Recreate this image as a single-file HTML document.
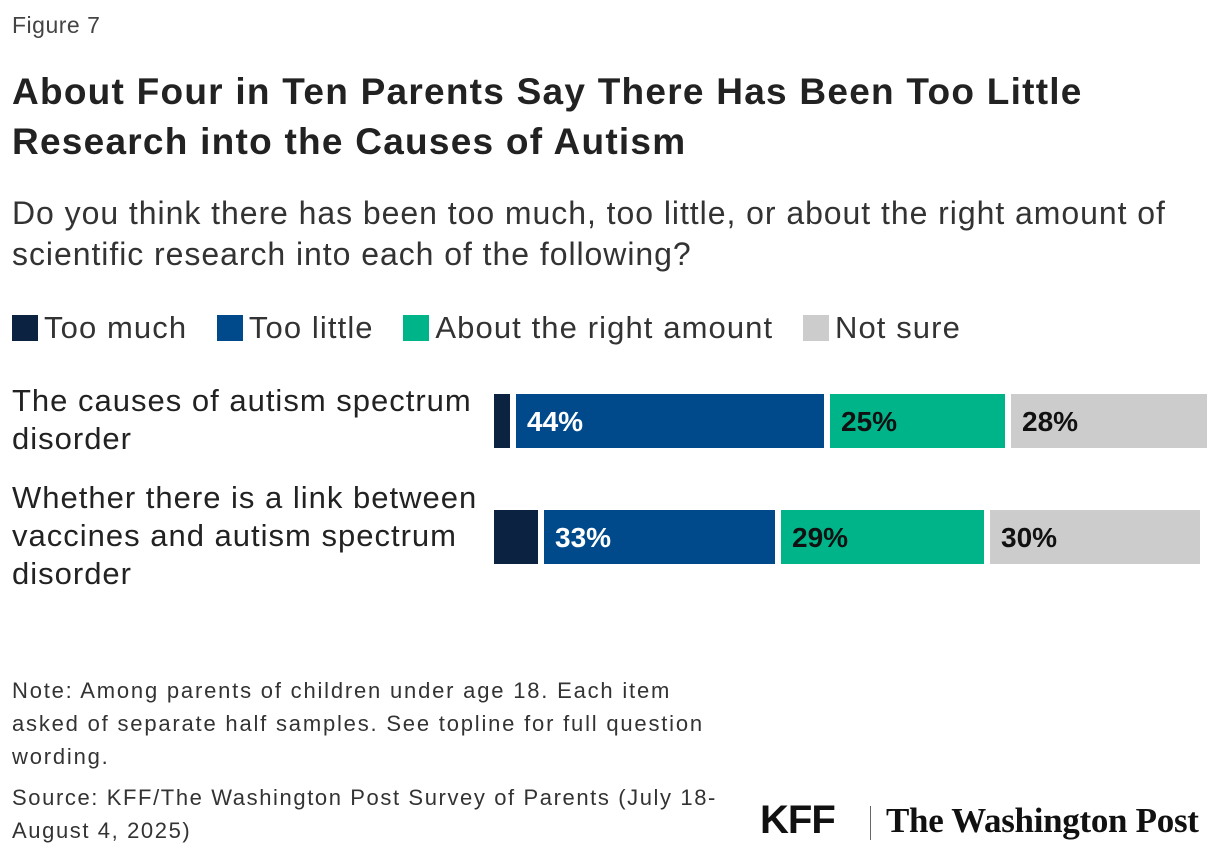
<!DOCTYPE html>
<html><head><meta charset="utf-8"><style>
body{margin:0;width:1220px;height:862px;background:#fff;font-family:"Liberation Sans",sans-serif;color:#222;position:relative;overflow:hidden}
.a{position:absolute;white-space:nowrap}
.lab{font-size:31px;line-height:38px;color:#222;letter-spacing:1px}
</style></head><body>
<div class="a" style="left:12px;top:12px;font-size:23px;color:#444;letter-spacing:0.5px">Figure 7</div>
<div class="a" style="left:12px;top:67px;font-size:37px;font-weight:bold;line-height:50px;letter-spacing:1.25px;color:#222">About Four in Ten Parents Say There Has Been Too Little<br>Research into the Causes of Autism</div>
<div class="a" style="left:12px;top:193px;font-size:32px;line-height:41px;color:#333;letter-spacing:0.95px">Do you think there has been too much, too little, or about the right amount of<br>scientific research into each of the following?</div>
<div class="a" style="left:12px;top:309px;font-size:31px;line-height:38px;color:#333;letter-spacing:1.1px">
<span><span style="display:inline-block;width:26px;height:26px;background:#0b2240;vertical-align:-3px;margin-right:6px"></span>Too much</span>
<span style="margin-left:20px"><span style="display:inline-block;width:26px;height:26px;background:#004a8c;vertical-align:-3px;margin-right:6px"></span>Too little</span>
<span style="margin-left:20px"><span style="display:inline-block;width:26px;height:26px;background:#00b48a;vertical-align:-3px;margin-right:6px"></span>About the right amount</span>
<span style="margin-left:20px"><span style="display:inline-block;width:26px;height:26px;background:#cccccc;vertical-align:-3px;margin-right:6px"></span>Not sure</span>
</div>
<div class="a lab" style="left:12px;top:382px">The causes of autism spectrum<br>disorder</div>
<div class="a lab" style="left:12px;top:479px">Whether there is a link between<br>vaccines and autism spectrum<br>disorder</div>
<svg class="a" style="left:0;top:0" width="1220" height="862" id="chart"></svg>
<div class="a" style="left:12px;top:674px;font-size:22px;line-height:33px;color:#333;letter-spacing:1.8px">Note: Among parents of children under age 18. Each item<br>asked of separate half samples. See topline for full question<br>wording.</div>
<div class="a" style="left:12px;top:781px;font-size:22px;line-height:33px;color:#333;letter-spacing:1.6px">Source: KFF/The Washington Post Survey of Parents (July 18-<br>August 4, 2025)</div>
<div class="a" style="left:760px;top:798px;font-size:40px;font-weight:900;letter-spacing:-1px;color:#111">KFF</div>
<div class="a" style="left:870px;top:806px;width:1px;height:34px;background:#666"></div>
<div class="a" style="left:886px;top:801px;font-family:'Liberation Serif',serif;font-size:35px;font-weight:bold;color:#111;letter-spacing:-0.3px">The Washington Post</div>
<script>
const categories=["causes","vaccines"];
const tooMuch=[2,6];
const tooLittle=[44,33];
const rightAmount=[25,29];
const notSure=[28,30];
const series=[tooMuch,tooLittle,rightAmount,notSure];
const colors=["#0b2240","#004a8c","#00b48a","#cccccc"];
const textColors=["#fff","#fff","#111","#111"];
const svg=document.getElementById('chart');
const NS="http://www.w3.org/2000/svg";
const x0=494,k=7.0,gap=6,h=54;
const rowY=i=>394+i*116;
categories.forEach((c,i)=>{
  let x=x0;
  series.forEach((s,j)=>{
    const w=s[i]*k+(j===0?2:0);
    const r=document.createElementNS(NS,'rect');
    r.setAttribute('x',x);r.setAttribute('y',rowY(i));r.setAttribute('width',w);r.setAttribute('height',h);r.setAttribute('fill',colors[j]);
    
    
    svg.appendChild(r);
    if(s[i]>=10){
      const t=document.createElementNS(NS,'text');
      t.setAttribute('x',x+11);t.setAttribute('y',rowY(i)+h/2+10);
      t.setAttribute('font-size','28');t.setAttribute('font-weight','bold');t.setAttribute('fill',textColors[j]);
      t.setAttribute('font-family','Liberation Sans, sans-serif');
      t.textContent=s[i]+'%';
      
      
      svg.appendChild(t);
    }
    x+=w+gap;
  });
});
</script>
</body></html>
